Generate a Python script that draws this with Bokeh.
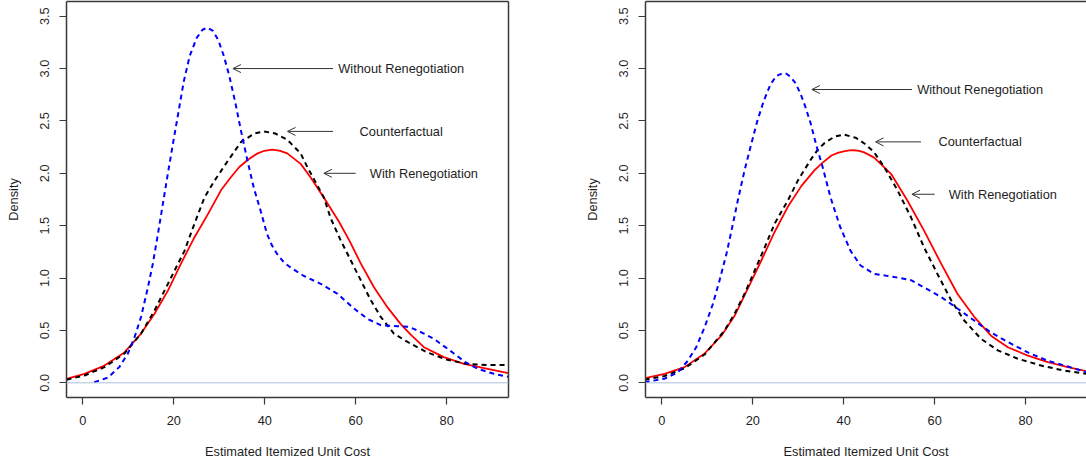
from bokeh.plotting import figure
from bokeh.layouts import row
from bokeh.models import Range1d, FixedTicker, LinearAxis, Span, Arrow, OpenHead, Label
from bokeh.embed import file_html
from bokeh.resources import INLINE

FONT = "Liberation Sans"
FS = "12.8px"
FRAME = "#3a3a3a"

x_ticks = [0, 20, 40, 60, 80]
y_ticks = [0.0, 0.5, 1.0, 1.5, 2.0, 2.5, 3.0, 3.5]
y_tick_labels = ["0.0", "0.5", "1.0", "1.5", "2.0", "2.5", "3.0", "3.5"]
x_title = "Estimated Itemized Unit Cost"
y_title = "Density"
series_names = ["Without Renegotiation", "Counterfactual", "With Renegotiation"]

# ---------------- left panel ----------------
left_blue_x = [2.5, 5.5, 8.0, 9.9, 11.4, 12.8, 14.3, 15.4, 16.5, 17.6, 18.7, 19.8, 21.0, 22.2, 23.5,
               25.0, 26.3, 27.4, 28.6, 29.8, 31.0, 32.2, 33.5, 34.8, 36.2, 37.6, 39.1, 40.5, 41.6,
               42.7, 44.2, 45.7, 48.6, 52.3, 56.0, 59.6, 62.6, 65.5, 69.2, 71.4, 72.8, 75.0, 77.2,
               79.4, 81.6, 84.0, 86.8, 90.4, 93.6]
left_blue_y = [0.005, 0.05, 0.15, 0.28, 0.44, 0.63, 0.91, 1.14, 1.42, 1.71, 2.00, 2.28, 2.58, 2.88, 3.12,
               3.29, 3.37, 3.39, 3.36, 3.27, 3.12, 2.93, 2.68, 2.40, 2.12, 1.86, 1.64, 1.42, 1.31,
               1.23, 1.15, 1.10, 1.02, 0.945, 0.85, 0.71, 0.61, 0.55, 0.54, 0.535, 0.515, 0.47, 0.42,
               0.35, 0.28, 0.20, 0.134, 0.086, 0.058]

left_black_x = [-3.6, 0.35, 4.75, 9.15, 12.8, 15.75, 17.95, 20.15, 22.35, 24.55, 26.75, 28.95, 31.9,
                34.8, 37.75, 39.8, 42.3, 44.95, 47.9, 49.35, 51.0, 53.0, 54.5, 56.7, 58.9, 61.1,
                63.3, 65.5, 68.4, 71.4, 75.75, 80.15, 84.55, 89.0, 93.6]
left_black_y = [0.03, 0.07, 0.15, 0.28, 0.47, 0.69, 0.88, 1.07, 1.26, 1.52, 1.77, 1.93, 2.12,
                2.30, 2.38, 2.40, 2.38, 2.32, 2.19, 2.06, 1.93, 1.77, 1.57, 1.36, 1.17, 0.98,
                0.79, 0.63, 0.47, 0.39, 0.29, 0.22, 0.18, 0.17, 0.17]

left_red_x = [-3.6, 0.35, 4.75, 9.15, 12.8, 15.75, 18.7, 21.6, 24.55, 27.5, 30.4, 32.5, 34.4, 36.3, 38.2,
              39.9, 41.65, 43.4, 44.95, 47.9, 50.1, 53.4, 56.3, 58.7, 61.1, 64.05, 67.0, 69.9, 72.1,
              75.0, 79.4, 83.8, 89.0, 93.6]
left_red_y = [0.038, 0.086, 0.165, 0.29, 0.47, 0.66, 0.88, 1.14, 1.39, 1.61, 1.84, 1.96, 2.06, 2.13, 2.185,
              2.215, 2.227, 2.215, 2.19, 2.09, 1.96, 1.74, 1.54, 1.35, 1.14, 0.91, 0.72, 0.56, 0.46,
              0.34, 0.245, 0.18, 0.134, 0.092]

left_note_text_x = [70, 70, 75]
left_note_y = [3.0, 2.4, 2.0]
left_arrow_from_x = [55, 55, 60]
left_arrow_to_x = [33, 45, 53]

# ---------------- right panel ----------------
right_blue_x = [-3.8, 0.6, 3.5, 5.7, 7.55, 9.4, 11.2, 12.7, 14.2, 15.3, 16.7, 18.2, 19.6, 21.0, 22.4,
                23.9, 25.2, 26.5, 27.4, 28.3, 29.4, 30.5, 31.6, 32.7, 34.2, 35.3, 37.1, 39.2, 41.5,
                43.7, 46.7, 51.1, 54.8, 57.7, 61.4, 65.0, 68.7, 72.4, 76.1, 80.5, 84.9, 89.3, 93.5]
right_blue_y = [0.006, 0.04, 0.10, 0.21, 0.34, 0.53, 0.75, 0.98, 1.23, 1.45, 1.74, 2.03, 2.27, 2.50, 2.69,
                2.85, 2.93, 2.955, 2.95, 2.92, 2.86, 2.76, 2.63, 2.48, 2.23, 2.07, 1.77, 1.49, 1.26,
                1.12, 1.04, 1.01, 0.98, 0.91, 0.82, 0.71, 0.595, 0.48, 0.39, 0.29, 0.21, 0.156, 0.10]

right_black_x = [-3.8, 0.6, 5.0, 9.4, 13.8, 16.0, 18.2, 20.4, 22.6, 24.8, 27.7, 29.9, 31.3, 32.9,
                 34.2, 35.8, 38.0, 40.0, 42.6, 44.7, 46.7, 48.9, 51.8, 54.8, 57.7, 60.6, 63.6,
                 66.5, 70.2, 73.9, 78.3, 83.4, 88.5, 93.5]
right_black_y = [0.03, 0.065, 0.14, 0.27, 0.50, 0.66, 0.85, 1.07, 1.29, 1.52, 1.74, 1.93, 2.03, 2.14,
                 2.22, 2.29, 2.35, 2.37, 2.34, 2.28, 2.20, 2.06, 1.84, 1.58, 1.29, 1.04, 0.79,
                 0.595, 0.42, 0.31, 0.23, 0.165, 0.117, 0.086]

right_red_x = [-3.8, 0.6, 5.0, 9.4, 13.1, 16.0, 18.9, 21.9, 24.8, 27.7, 30.7, 33.6, 35.3, 37.3, 38.7,
               40.0, 41.2, 42.3, 43.4, 44.5, 46.7, 50.4, 54.0, 57.7, 61.4, 65.0, 68.7, 72.4, 76.1,
               80.5, 84.9, 89.3, 93.5]
right_red_y = [0.044, 0.086, 0.15, 0.28, 0.45, 0.64, 0.90, 1.17, 1.44, 1.68, 1.88, 2.03, 2.10, 2.17, 2.195,
               2.21, 2.218, 2.22, 2.215, 2.20, 2.15, 1.995, 1.74, 1.45, 1.14, 0.85, 0.63, 0.45, 0.34,
               0.26, 0.197, 0.149, 0.11]

right_note_text_x = [70, 70, 75]
right_note_y = [2.8, 2.3, 1.8]
right_arrow_from_x = [55, 57, 60]
right_arrow_to_x = [33, 47, 55]


def frame_axis(p, side):
    ax = LinearAxis(ticker=FixedTicker(ticks=[]), major_label_text_font_size="0px",
                    major_tick_out=0, major_tick_in=0, minor_tick_line_color=None,
                    axis_line_color=FRAME, axis_line_width=1.5)
    p.add_layout(ax, side)


def make_panel(width, border_left, border_right, x_end, draw_right_frame,
               bx, by, kx, ky, rx, ry, ntx, ny, afx, atx):
    p = figure(width=width, height=464,
               x_range=Range1d(-3.6, x_end), y_range=Range1d(-0.14, 3.64),
               output_backend="svg", toolbar_location=None,
               min_border_left=border_left, min_border_right=border_right,
               min_border_top=1, min_border_bottom=67)
    p.outline_line_color = None
    p.xgrid.grid_line_color = None
    p.ygrid.grid_line_color = None
    p.background_fill_color = "white"
    p.border_fill_color = "white"

    for ax in (p.xaxis[0], p.yaxis[0]):
        ax.axis_line_color = FRAME
        ax.axis_line_width = 1.5
        ax.major_tick_line_color = FRAME
        ax.major_tick_line_width = 1.2
        ax.major_tick_in = 0
        ax.major_tick_out = 7
        ax.minor_tick_line_color = None
        ax.major_label_text_font = FONT
        ax.major_label_text_font_size = FS
        ax.major_label_text_color = "#1e1e1e"
        ax.axis_label_text_font = FONT
        ax.axis_label_text_font_size = FS
        ax.axis_label_text_font_style = "normal"
        ax.axis_label_text_color = "#1e1e1e"

    p.xaxis.ticker = FixedTicker(ticks=x_ticks)
    p.xaxis.major_label_standoff = 11
    p.xaxis.axis_label_standoff = 16
    p.xaxis.axis_label = x_title

    p.yaxis.ticker = FixedTicker(ticks=y_ticks)
    p.yaxis.major_label_overrides = {t: l for t, l in zip(y_ticks, y_tick_labels)}
    p.yaxis.major_label_orientation = "vertical"
    p.yaxis.major_label_standoff = 10
    p.yaxis.axis_label_standoff = 17
    p.yaxis.axis_label = y_title

    frame_axis(p, "above")
    if draw_right_frame:
        frame_axis(p, "right")

    p.add_layout(Span(location=0, dimension="width", line_color="#A9C0DC", line_width=1))

    p.line(rx, ry, line_color="#FF0000", line_width=1.8, line_join="round")
    p.line(kx, ky, line_color="#000000", line_width=2, line_dash="5 4", line_join="round")
    p.line(bx, by, line_color="#0000FF", line_width=2, line_dash="5 4", line_join="round")

    for name, tx, yy, fx, hx in zip(series_names, ntx, ny, afx, atx):
        p.add_layout(Arrow(end=OpenHead(size=8, line_color="#333333", line_width=1),
                           x_start=fx, y_start=yy, x_end=hx, y_end=yy,
                           line_color="#333333", line_width=1))
        p.add_layout(Label(x=tx, y=yy, text=name, text_align="center", text_baseline="middle",
                           text_font=FONT, text_font_size=FS, text_color="#1e1e1e"))
    return p


left = make_panel(543, 66, 35, 93.6, True,
                  left_blue_x, left_blue_y, left_black_x, left_black_y, left_red_x, left_red_y,
                  left_note_text_x, left_note_y, left_arrow_from_x, left_arrow_to_x)
right = make_panel(543, 102, 0, 93.4, False,
                   right_blue_x, right_blue_y, right_black_x, right_black_y, right_red_x, right_red_y,
                   right_note_text_x, right_note_y, right_arrow_from_x, right_arrow_to_x)

layout = row(left, right)
open("out.html", "w").write(file_html(layout, INLINE))
